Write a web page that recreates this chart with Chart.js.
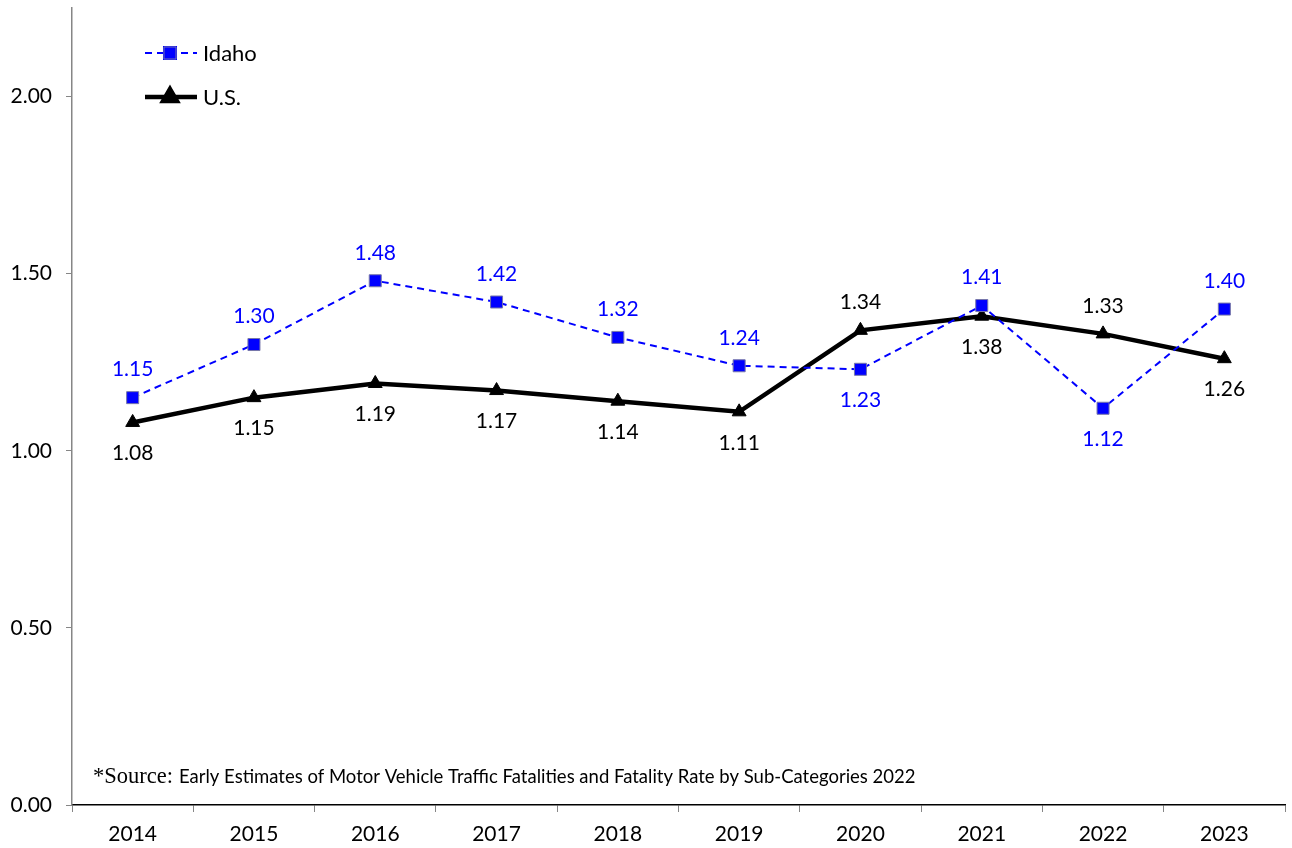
<!DOCTYPE html>
<html>
<head>
<meta charset="utf-8">
<script src="https://cdn.jsdelivr.net/npm/chart.js@4"></script>
<style>
    html, body { margin: 0; padding: 0; background: #fff; }
    #wrap { width: 1292px; height: 848px; }
</style>
</head>
<body>
<div id="wrap"><canvas id="grafica"></canvas></div>
<script>
const years = ['2014', '2015', '2016', '2017', '2018', '2019', '2020', '2021', '2022', '2023'];
const idahoRates = [1.15, 1.30, 1.48, 1.42, 1.32, 1.24, 1.23, 1.41, 1.12, 1.40];
const usRates = [1.08, 1.15, 1.19, 1.17, 1.14, 1.11, 1.34, 1.38, 1.33, 1.26];
const yTicks = [0, 0.5, 1.0, 1.5, 2.0];
const sourceLead = '*Source:';
const sourceText = 'Early Estimates of Motor Vehicle Traffic Fatalities and Fatality Rate by Sub-Categories 2022';

const FONT = 'Lato, "Open Sans", sans-serif';

// etiquetas de valor (arriba / abajo de cada punto)
const labelSides = {
    0: ['up', 'up', 'up', 'up', 'up', 'up', 'down', 'up', 'down', 'up'],
    1: ['down', 'down', 'down', 'down', 'down', 'down', 'up', 'down', 'up', 'down']
};

const valueLabels = {
    id: 'valueLabels',
    afterDatasetsDraw(chart) {
        const ctx = chart.ctx;
        ctx.save();
        ctx.font = '21px ' + FONT;
        ctx.textAlign = 'center';
        ctx.textBaseline = 'middle';
        chart.data.datasets.forEach((ds, i) => {
            const meta = chart.getDatasetMeta(i);
            ctx.fillStyle = ds.labelColor;
            meta.data.forEach((pt, j) => {
                const up = labelSides[i][j] === 'up';
                ctx.fillText(ds.data[j].toFixed(2), pt.x, up ? pt.y - 28 : pt.y + 31);
            });
        });
        ctx.restore();
    }
};

const legendaYFuente = {
    id: 'legendaYFuente',
    afterDraw(chart) {
        const ctx = chart.ctx;
        ctx.save();
        // leyenda
        const rows = [{ ds: chart.data.datasets[0], y: 53 }, { ds: chart.data.datasets[1], y: 97 }];
        rows.forEach(r => {
            ctx.strokeStyle = r.ds.borderColor;
            ctx.lineWidth = r.ds.borderWidth;
            ctx.setLineDash(r.ds.borderDash || []);
            ctx.beginPath();
            ctx.moveTo(145, r.y);
            ctx.lineTo(197, r.y);
            ctx.stroke();
            ctx.setLineDash([]);
            Chart.helpers.drawPoint(ctx, {
                pointStyle: r.ds.pointStyle,
                radius: r.ds.pointRadius,
                borderWidth: r.ds.pointBorderWidth,
                rotation: 0
            }, 170, r.y);
            ctx.fillStyle = r.ds.pointBackgroundColor;
            ctx.strokeStyle = r.ds.pointBorderColor;
            ctx.lineWidth = r.ds.pointBorderWidth;
            ctx.fill();
            ctx.stroke();
            ctx.fillStyle = '#000';
            ctx.font = '22px ' + FONT;
            ctx.textBaseline = 'middle';
            ctx.fillText(r.ds.label, 203, r.y + 1);
        });
        // fuente
        ctx.fillStyle = '#000';
        ctx.textBaseline = 'alphabetic';
        ctx.font = '22.5px "Liberation Serif", "DejaVu Serif", serif';
        ctx.fillText(sourceLead, 93, 783);
        const x0 = 93 + ctx.measureText(sourceLead).width + 6;
        ctx.font = '18.5px ' + FONT;
        ctx.fillText(sourceText, x0, 783);
        ctx.restore();
    }
};

new Chart(document.getElementById('grafica').getContext('2d'), {
    type: 'line',
    data: {
        labels: years,
        datasets: [{
            label: 'Idaho',
            data: idahoRates,
            borderColor: '#0000FF',
            borderWidth: 2,
            borderDash: [7, 5],
            pointStyle: 'rect',
            pointRadius: 8.5,
            pointBackgroundColor: '#0000FF',
            pointBorderColor: '#7777AA',
            pointBorderWidth: 1,
            labelColor: '#0000FF',
            tension: 0
        }, {
            label: 'U.S.',
            data: usRates,
            borderColor: '#000000',
            borderWidth: 4.5,
            pointStyle: 'triangle',
            pointRadius: 8,
            pointBackgroundColor: '#000000',
            pointBorderColor: '#000000',
            pointBorderWidth: 1,
            labelColor: '#000000',
            tension: 0
        }]
    },
    options: {
        responsive: true,
        maintainAspectRatio: false,
        animation: false,
        layout: { autoPadding: false, padding: { top: 8, right: 7, left: 0, bottom: 0 } },
        plugins: {
            legend: { display: false },
            tooltip: { enabled: false }
        },
        scales: {
            x: {
                offset: true,
                grid: { display: true, drawOnChartArea: false, drawTicks: true, tickLength: 7, offset: true, color: '#868686' },
                border: { display: true, color: '#000000', width: 1.5 },
                ticks: { color: '#000', font: { family: FONT, size: 21 }, padding: 10, maxRotation: 0 },
                afterFit(scale) {
                    scale.height = 43;
                    scale.paddingLeft = 0;
                    scale.paddingRight = 0;
                }
            },
            y: {
                min: 0,
                max: 2.25,
                afterBuildTicks(scale) { scale.ticks = yTicks.map(v => ({ value: v })); },
                grid: { display: true, drawOnChartArea: false, drawTicks: true, tickLength: 6, color: '#868686' },
                border: { display: true, color: '#868686', width: 1.5 },
                ticks: {
                    color: '#000',
                    font: { family: FONT, size: 21 },
                    padding: 14,
                    callback: v => Number(v).toFixed(2)
                },
                afterFit(scale) {
                    scale.width = 72;
                    scale.paddingTop = 0;
                    scale.paddingBottom = 0;
                }
            }
        }
    },
    plugins: [valueLabels, legendaYFuente]
});
</script>
</body>
</html>
